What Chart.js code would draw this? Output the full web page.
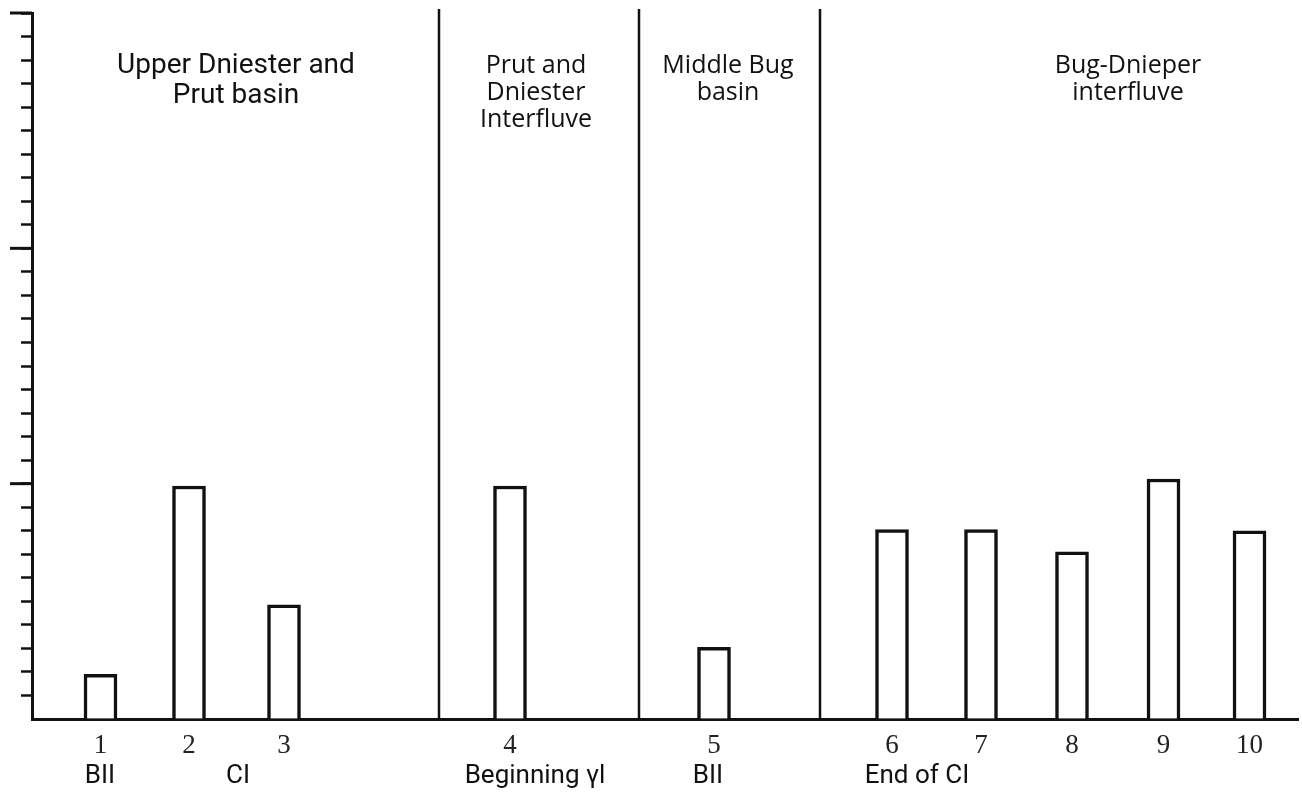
<!DOCTYPE html>
<html>
<head>
<meta charset="utf-8">
<script src="https://cdn.jsdelivr.net/npm/chart.js@4/dist/chart.umd.min.js"></script>
<style>
  html, body { margin: 0; padding: 0; background: #fff; }
  #wrap { width: 1302px; height: 793px; }
</style>
</head>
<body>
<div id="wrap"><canvas id="chart"></canvas></div>
<script>
// bar data (x positions on a 0..126.6 scale, heights in tick units)
var barLabels = ['1', '2', '3', '4', '5', '6', '7', '8', '9', '10'];
var barPositions = [6.85, 15.7, 25.2, 47.8, 68.2, 86, 94.9, 104, 113.15, 121.75];
var barValues = [1.9, 9.9, 4.85, 9.9, 3.05, 8.05, 8.05, 7.1, 10.2, 8.0];

// second row of labels under the numbers
var noteLabels = ['BII', 'CI', 'Beginning \u03b3l', 'BII', 'End of CI'];
var notePositions = [6.8, 20.6, 50.3, 67.6, 88.5];

// regions: separators and titles
var separatorPositions = [40.7, 60.7, 78.8];
var regionTitles = [
    ['Upper Dniester and', 'Prut basin'],
    ['Prut and', 'Dniester', 'Interfluve'],
    ['Middle Bug', 'basin'],
    ['Bug-Dnieper', 'interfluve']
];
var regionPositions = [20.4, 50.4, 69.6, 109.6];
var regionFonts = ['Roboto', 'Open Sans', 'Open Sans', 'Open Sans'];

var majorTicks = [10, 20, 30];

// draws separators, region titles and the long ticks on the y axis
var decorPlugin = {
    id: 'decor',
    afterDraw: function (chart) {
        var ctx = chart.ctx;
        var x = chart.scales.x;
        var y = chart.scales.y;
        var area = chart.chartArea;
        ctx.save();
        ctx.strokeStyle = '#111';
        ctx.lineWidth = 2.5;
        separatorPositions.forEach(function (p) {
            var px = x.getPixelForValue(p);
            ctx.beginPath();
            ctx.moveTo(px, 9);
            ctx.lineTo(px, area.bottom);
            ctx.stroke();
        });
        ctx.lineWidth = 3;
        majorTicks.forEach(function (v) {
            var py = y.getPixelForValue(v);
            ctx.beginPath();
            ctx.moveTo(area.left - 22, py);
            ctx.lineTo(area.left, py);
            ctx.stroke();
        });
        ctx.fillStyle = '#111';
        ctx.textAlign = 'center';
        ctx.textBaseline = 'middle';
        regionTitles.forEach(function (lines, i) {
            var roboto = regionFonts[i] == 'Roboto';
            ctx.font = (roboto ? '28px' : '25px') + ' "' + regionFonts[i] + '"';
            var px = x.getPixelForValue(regionPositions[i]);
            lines.forEach(function (line, j) {
                ctx.fillText(line, px, 66 + j * (roboto ? 30 : 27));
            });
        });
        ctx.restore();
    }
};

new Chart(document.getElementById('chart'), {
    type: 'bar',
    data: {
        datasets: [{
            data: barPositions.map(function (p, i) { return { x: p, y: barValues[i] }; }),
            backgroundColor: '#fff',
            borderColor: '#111',
            borderWidth: 3.5,
            barThickness: 33
        }]
    },
    options: {
        responsive: true,
        maintainAspectRatio: false,
        animation: false,
        layout: { padding: { top: 13, right: 4, left: 0, bottom: 0 } },
        plugins: { legend: { display: false }, tooltip: { enabled: false } },
        scales: {
            x: {
                type: 'linear',
                min: 0,
                max: 126.6,
                offset: false,
                weight: 0,
                grid: { display: false, drawTicks: false, offset: false },
                border: { display: true, color: '#111', width: 3 },
                afterBuildTicks: function (scale) {
                    scale.ticks = barPositions.map(function (p) { return { value: p }; });
                },
                afterFit: function (scale) { scale.height = 40; },
                ticks: {
                    autoSkip: false,
                    maxRotation: 0,
                    padding: 11,
                    color: '#222',
                    font: { family: 'Liberation Serif', size: 27 },
                    callback: function (value, index) { return barLabels[index]; }
                }
            },
            x2: {
                type: 'linear',
                position: 'bottom',
                min: 0,
                max: 126.6,
                offset: false,
                weight: 1,
                grid: { display: false, drawTicks: false, offset: false },
                border: { display: false },
                afterBuildTicks: function (scale) {
                    scale.ticks = notePositions.map(function (p) { return { value: p }; });
                },
                afterFit: function (scale) { scale.height = 34; },
                ticks: {
                    autoSkip: false,
                    maxRotation: 0,
                    padding: 2,
                    color: '#111',
                    font: { family: 'Roboto', size: 26 },
                    callback: function (value, index) { return noteLabels[index]; }
                }
            },
            y: {
                min: 0,
                max: 30,
                afterFit: function (scale) { scale.width = 32; },
                grid: {
                    drawOnChartArea: false,
                    drawTicks: true,
                    tickLength: 11,
                    tickWidth: 2.5,
                    tickColor: function (c) { return c.tick && c.tick.value === 0 ? 'rgba(0,0,0,0)' : '#111'; }
                },
                border: { display: true, color: '#111', width: 3 },
                ticks: { display: false, stepSize: 1 }
            }
        }
    },
    plugins: [decorPlugin]
});
</script>
</body>
</html>
